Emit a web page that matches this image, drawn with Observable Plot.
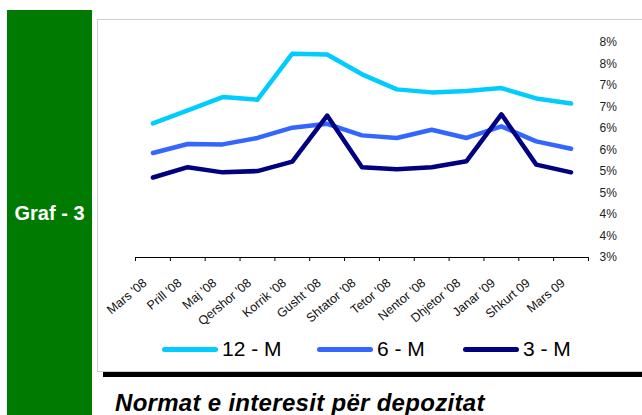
<!DOCTYPE html>
<html>
<head>
<meta charset="utf-8">
<script src="https://cdn.jsdelivr.net/npm/d3@7"></script>
<script src="https://cdn.jsdelivr.net/npm/@observablehq/plot@0.6"></script>
<style>
  html, body { margin: 0; padding: 0; background: #fff; }
  #root { position: relative; width: 642px; height: 415px; overflow: hidden; font-family: "Liberation Sans", Arial, sans-serif; }
  #green { position: absolute; left: 7px; top: 10px; width: 85px; height: 405px; background: #007a00; }
  #graf { position: absolute; left: 7px; width: 85px; top: 202px; text-align: center; color: #fff; font-weight: bold; font-size: 20px; }
  #box { position: absolute; left: 97px; top: 19px; width: 560px; height: 353px; border: 1px solid #cfcfcf; box-sizing: border-box; }
  #chart { position: absolute; left: 98px; top: 21px; }
  #bar { position: absolute; left: 103px; top: 372px; width: 545px; height: 5px; background: #000; }
  #title { position: absolute; left: 115px; top: 389px; font-size: 24px; letter-spacing: 0.3px; font-weight: bold; font-style: italic; color: #000; white-space: nowrap; }
  .leg { position: absolute; top: 337px; height: 24px; display: flex; align-items: center; font-size: 21px; color: #000; white-space: nowrap; }
  .leg span.sw { display: inline-block; width: 56px; height: 5px; border-radius: 3px; margin-right: 4px; }
</style>
</head>
<body>
<div id="root">
  <div id="green"></div>
  <div id="graf">Graf - 3</div>
  <div id="box"></div>
  <div id="chart"></div>
  <div id="legend"></div>
  <div id="bar"></div>
  <div id="title">Normat e interesit për depozitat</div>
</div>
<script>
const months = ["Mars '08", "Prill '08", "Maj '08", "Qershor '08", "Korrik '08", "Gusht '08", "Shtator '08", "Tetor '08", "Nentor '08", "Dhjetor '08", "Janar '09", "Shkurt 09", "Mars 09"];
const m12 = [6.12, 6.42, 6.73, 6.67, 7.74, 7.72, 7.26, 6.91, 6.84, 6.87, 6.94, 6.70, 6.58];
const m6  = [5.43, 5.64, 5.63, 5.78, 6.02, 6.11, 5.84, 5.78, 5.97, 5.78, 6.05, 5.70, 5.53];
const m3  = [4.86, 5.10, 4.98, 5.01, 5.23, 6.30, 5.10, 5.05, 5.10, 5.24, 6.33, 5.16, 4.98];
const seriesNames = ["12 - M", "6 - M", "3 - M"];
const seriesColors = ["#00ccff", "#3366ff", "#000080"];
const yTicks = [3, 3.5, 4, 4.5, 5, 5.5, 6, 6.5, 7, 7.5, 8];

const seriesValues = [m12, m6, m3];
const rows = [];
seriesValues.forEach((vals, s) => vals.forEach((v, i) => rows.push({i, month: months[i], value: v, series: seriesNames[s]})));
const idx = months.map((_, i) => i);
const bounds = d3.range(0, months.length + 1).map(i => i - 0.5);

const chart = Plot.plot({
  width: 544,
  height: 320,
  marginLeft: 37,
  marginRight: 54,
  marginTop: 21,
  marginBottom: 84,
  style: {background: "transparent", fontFamily: "Liberation Sans, Arial, sans-serif", overflow: "visible"},
  x: {type: "linear", domain: [-0.5, months.length - 0.5], label: null},
  y: {domain: [3, 8], label: null},
  marks: [
    Plot.ruleY([3], {stroke: "#000", strokeWidth: 1}),
    Plot.axisX({ticks: bounds, tickSize: 4, tickFormat: () => "", stroke: "#000", label: null}),
    Plot.axisX({ticks: idx, tickSize: 0, tickPadding: 20, tickRotate: -40, textAnchor: "end", lineAnchor: "top", tickFormat: i => months[i], fontSize: 12.5, fill: "#111", dx: -11, label: null}),
    Plot.axisY({anchor: "right", ticks: yTicks, tickSize: 0, tickPadding: 11, tickFormat: d => Math.round(d) + "%", fontSize: 12, fill: "#222", label: null}),
    ...seriesNames.map((name, s) => Plot.lineY(rows.filter(r => r.series === name), {x: "i", y: "value", stroke: seriesColors[s], strokeWidth: 4.5, strokeLinecap: "round", strokeLinejoin: "round"}))
  ]
});
document.getElementById("chart").appendChild(chart);

const legend = document.getElementById("legend");
const legLeft = [162, 317, 463];
seriesNames.forEach((name, s) => {
  const d = document.createElement("div");
  d.className = "leg";
  d.style.left = legLeft[s] + "px";
  d.innerHTML = `<span class="sw" style="background:${seriesColors[s]}"></span>${name}`;
  legend.appendChild(d);
});
</script>
</body>
</html>
